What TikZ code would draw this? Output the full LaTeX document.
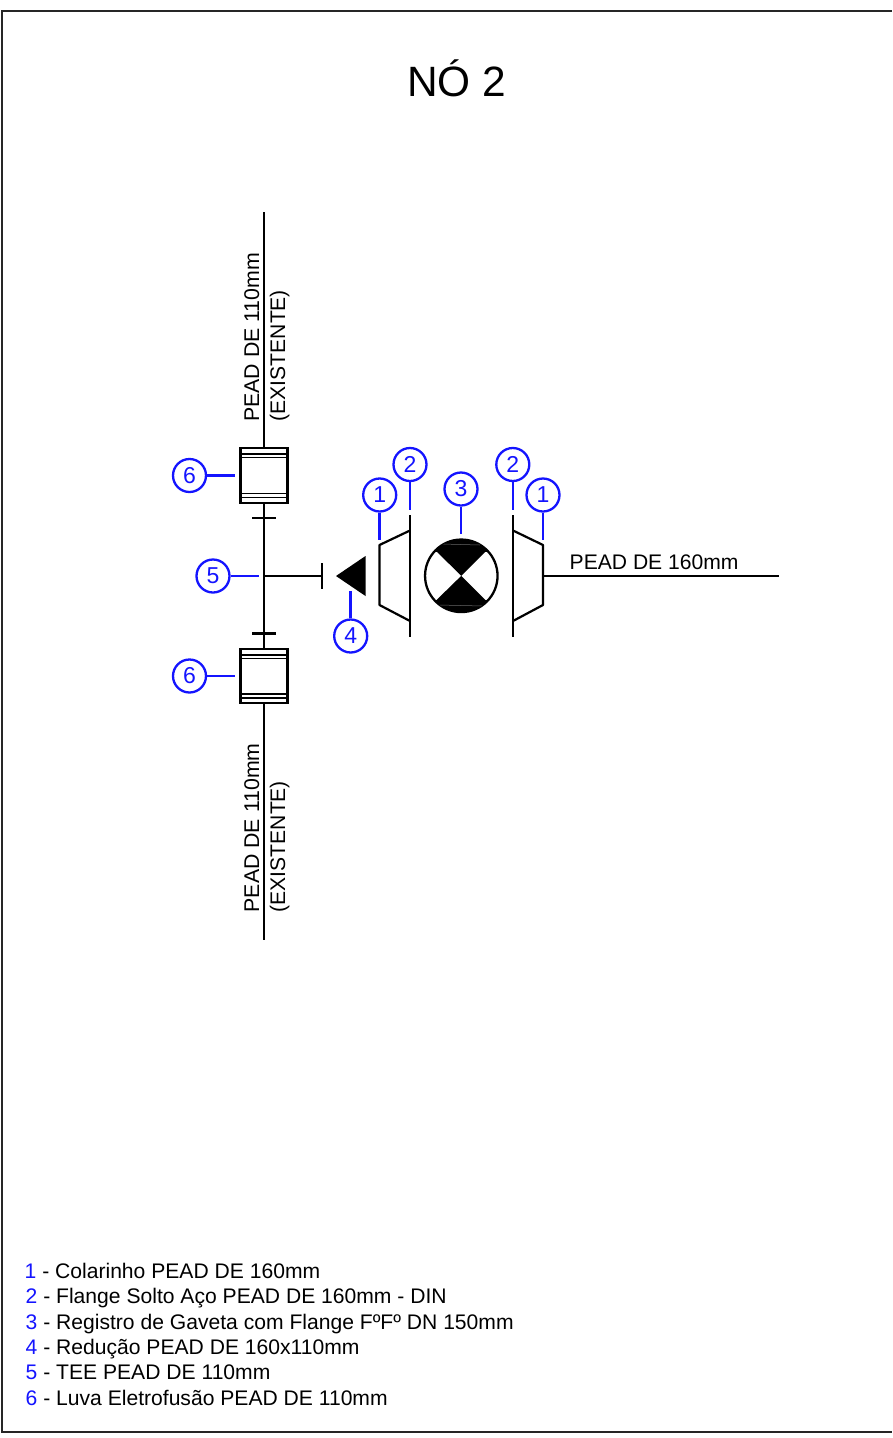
\documentclass[tikz,border=0pt]{standalone}
\usepackage{fontspec}
\setmainfont{Liberation Sans}
\definecolor{balloon}{RGB}{20,20,255}
\newcommand{\legfont}{\fontsize{21.1}{24}\selectfont}
\tikzset{
  x=1pt,y=-1pt,
  pipe/.style={line width=2.6pt,black},
  thinpipe/.style={line width=2.2pt,black},
  lead/.style={line width=2.6pt,balloon},
  num/.style={circle,draw=balloon,line width=2.3pt,text=balloon,minimum size=33pt,inner sep=0pt,font=\fontsize{23}{26}\selectfont},
  legend/.style={anchor=base west,inner sep=0pt,font=\legfont,text=black},
  lab/.style={inner sep=0pt,font=\legfont,text=black},
  luva/.style={draw=black,line width=2.2pt,fill=white,minimum width=47pt,inner sep=0pt,rectangle}
}
\begin{document}
\begin{tikzpicture}
\useasboundingbox (0,0) rectangle (892,1438);
\fill[white] (0,0) rectangle (892,1438);
% sheet frame
\coordinate (fTR) at (892,11);
\coordinate (fTL) at (2,11);
\coordinate (fBL) at (2,1432);
\coordinate (fBR) at (892,1432);
\draw[line width=2.4pt,black!85] (fTR) -- (fTL) -- (fBL) -- (fBR);
% title
\node[inner sep=0pt,font=\fontsize{42.4}{48}\selectfont] (title) at (456.8,78.5) {NÓ 2};
% main vertical pipe points
\coordinate (pTop) at (264,212);
\coordinate (pBot) at (264,940);
\node[luva,minimum height=55pt] (L1) at (264,475.5) {};
\node[luva,minimum height=54.5pt] (L2) at (264,676) {};
\draw[pipe] (pTop) -- (L1.north);
\draw[pipe] (L1.south) -- (L2.north);
\draw[pipe] (L2.south) -- (pBot);
% luva inner bands
\foreach \n/\a/\b/\c/\d in {L1/454/457.5/493.5/497.5,L2/655/658.5/694/698}{
  \draw[line width=1.8pt] (\n.west |- 0,\a) -- (\n.east |- 0,\a);
  \draw[line width=1.8pt] (\n.west |- 0,\b) -- (\n.east |- 0,\b);
  \draw[line width=1.8pt] (\n.west |- 0,\c) -- (\n.east |- 0,\c);
  \draw[line width=1.8pt] (\n.west |- 0,\d) -- (\n.east |- 0,\d);
}
% ticks
\coordinate (t1a) at (252,518); \coordinate (t1b) at (276,518);
\coordinate (t2a) at (252,633.5); \coordinate (t2b) at (276,633.5);
\draw[thinpipe] (t1a) -- (t1b);
\draw[thinpipe] (t2a) -- (t2b);
% tee branch
\coordinate (tee) at (264,576);
\coordinate (teeEnd) at (322,576);
\coordinate (capA) at (322,563); \coordinate (capB) at (322,588.5);
\draw[thinpipe] (tee) -- (teeEnd);
\draw[thinpipe] (capA) -- (capB);
% reducer
\coordinate (rTip) at (336,576);
\coordinate (rA) at (365.5,556);
\coordinate (rB) at (365.5,596);
\fill[black] (rTip) -- (rA) -- (rB) -- cycle;
% left flange and collar
\coordinate (fl1a) at (410,515); \coordinate (fl1b) at (410,637);
\draw[pipe] (fl1a) -- (fl1b);
\coordinate (c1a) at (410,530.5); \coordinate (c1b) at (379.5,545);
\coordinate (c1c) at (379.5,605); \coordinate (c1d) at (410,621);
\draw[thinpipe,line join=round] (c1a) -- (c1b) -- (c1c) -- (c1d);
% right flange and collar
\coordinate (fl2a) at (513,515); \coordinate (fl2b) at (513,637);
\draw[pipe] (fl2a) -- (fl2b);
\coordinate (c2a) at (513,530.5); \coordinate (c2b) at (543,545);
\coordinate (c2c) at (543,605); \coordinate (c2d) at (513,621);
\draw[thinpipe,line join=round] (c2a) -- (c2b) -- (c2c) -- (c2d);
% outgoing pipe
\coordinate (out) at (779,576);
\coordinate (outS) at (543,576);
\draw[pipe] (outS) -- (out);
% valve
\node[circle,draw=black,line width=2.3pt,minimum size=72.5pt,inner sep=0pt] (V) at (461.3,575.8) {};
\begin{scope}
  \clip (V.center) circle (36.2);
  \fill[black] (400,530) rectangle (520,551.5);
  \fill[black] (400,600) rectangle (520,620);
  \draw[black!60,line width=.5pt] (442,544) -- (480,545);
  \draw[black!60,line width=.5pt] (438,605) -- (484,606);
\end{scope}
\fill[black] (436,551) -- (486,551) -- (V.center) -- cycle;
\fill[black] (436,600.5) -- (486,600.5) -- (V.center) -- cycle;
% balloons
\node[num] (n6a) at (189.5,475.5) {6};
\node[num] (n6b) at (189.5,676) {6};
\node[num] (n5) at (213,576) {5};
\node[num] (n4) at (350.7,636) {4};
\node[num] (n1a) at (379.7,495) {1};
\node[num] (n2a) at (410,464.5) {2};
\node[num] (n3) at (461,489) {3};
\node[num] (n2b) at (512.8,464.5) {2};
\node[num] (n1b) at (543,495) {1};
% leaders
\coordinate (e6a) at (234.7,475.5);
\coordinate (e6b) at (234.7,676);
\coordinate (e5) at (258.7,576);
\coordinate (e4) at (350.7,591);
\coordinate (e1a) at (379.7,539.5);
\coordinate (e2a) at (410,510);
\coordinate (e3) at (461,534);
\coordinate (e2b) at (512.8,510);
\coordinate (e1b) at (543,540);
\draw[lead] (n6a) -- (e6a);
\draw[lead] (n6b) -- (e6b);
\draw[lead] (n5) -- (e5);
\draw[lead] (n4) -- (e4);
\draw[lead] (n1a) -- (e1a);
\draw[lead] (n2a) -- (e2a);
\draw[lead] (n3) -- (e3);
\draw[lead] (n2b) -- (e2b);
\draw[lead] (n1b) -- (e1b);
% pipe labels
\node[lab,anchor=base west] (lbl160) at (569.5,569) {PEAD DE 160mm};
\node[lab,rotate=90,anchor=base west] (lblA) at (259,422) {\fontsize{21.3}{24}\selectfont PEAD DE 110mm};
\node[lab,rotate=90,anchor=base west] (lblAb) at (285,421.5) {(EXISTENTE)};
\node[lab,rotate=90,anchor=base west] (lblB) at (259,912.5) {\fontsize{21.3}{24}\selectfont PEAD DE 110mm};
\node[lab,rotate=90,anchor=base west] (lblBb) at (285,912.5) {(EXISTENTE)};
% legend
\node[legend] (k1) at (24.5,1278) {\textcolor{balloon}{1} - Colarinho PEAD DE 160mm};
\node[legend] (k2) at (25.5,1303) {\textcolor{balloon}{2} - Flange Solto Aço PEAD DE 160mm - DIN};
\node[legend] (k3) at (25.5,1329) {\textcolor{balloon}{3} - Registro de Gaveta com Flange FºFº DN 150mm};
\node[legend] (k4) at (25.5,1354) {\textcolor{balloon}{4} - Redução PEAD DE 160x110mm};
\node[legend] (k5) at (25.5,1379.5) {\textcolor{balloon}{5} - TEE PEAD DE 110mm};
\node[legend] (k6) at (25.5,1405) {\textcolor{balloon}{6} - Luva Eletrofusão PEAD DE 110mm};
\end{tikzpicture}
\end{document}
